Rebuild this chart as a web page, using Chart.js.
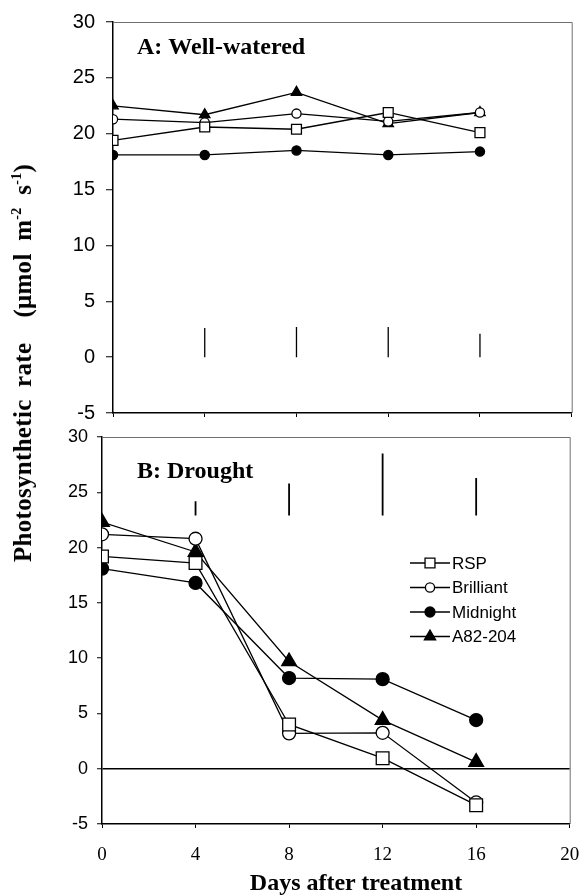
<!DOCTYPE html>
<html>
<head>
<meta charset="utf-8">
<script src="https://cdn.jsdelivr.net/npm/chart.js@4"></script>
<style>
body{margin:0;background:#fff;width:580px;height:895px;position:relative;overflow:hidden}
canvas{position:absolute;left:0}
#cA{top:0}
#cB{top:420px}
#ytitle{position:absolute;left:23px;top:363px;transform:translate(-50%,-50%) rotate(-90deg);font:bold 25px 'Liberation Serif';white-space:nowrap;color:#000;word-spacing:6px;letter-spacing:0.3px}
#ytitle sup{font-size:14px;vertical-align:10px;line-height:0}
#xtitle{position:absolute;left:356px;top:882px;transform:translate(-50%,-50%);font:bold 24px 'Liberation Serif';white-space:nowrap;color:#000}
</style>
</head>
<body>
<canvas id="cA" width="580" height="430"></canvas>
<canvas id="cB" width="580" height="475"></canvas>
<div id="ytitle">Photosynthetic rate&nbsp; (&mu;mol m<sup>-2</sup> s<sup>-1</sup>)</div>
<div id="xtitle">Days after treatment</div>
<script>
// days after treatment
const days = [0, 4, 8, 12, 16];
const seriesNames = ['RSP', 'Brilliant', 'Midnight', 'A82-204'];

// A: well-watered
const rspA = [19.4, 20.6, 20.4, 21.9, 20.1];
const brilliantA = [21.3, 21.0, 21.8, 21.1, 21.9];
const midnightA = [18.1, 18.1, 18.5, 18.1, 18.4];
const a82A = [22.5, 21.7, 23.7, 20.9, 21.9];

// B: drought
const rspB = [19.2, 18.6, 4.0, 0.95, -3.3];
const brilliantB = [21.2, 20.8, 3.2, 3.25, -3.05];
const midnightB = [18.1, 16.8, 8.2, 8.1, 4.4];
const a82B = [22.3, 19.6, 9.7, 4.4, 0.6];

// LSD bars
const lsdDays = [4, 8, 12, 16];
const lsdLowA = [0, 0, 0, 0];
const lsdHighA = [2.6, 2.7, 2.7, 2.1];
const lsdLowB = [22.9, 22.9, 22.9, 22.9];
const lsdHighB = [24.2, 25.8, 28.5, 26.3];

const yTicks = [-5, 0, 5, 10, 15, 20, 25, 30];
const xTicks = [0, 4, 8, 12, 16, 20];

const styles = [
  {pointStyle:'rect', fill:'#fff'},
  {pointStyle:'circle', fill:'#fff'},
  {pointStyle:'circle', fill:'#000'},
  {pointStyle:'triangle', fill:'#000'}
];

function pts(vals){ return days.map((d,i)=>({x:d, y:vals[i]})); }

function makeSets(list, radii, lsdLow, lsdHigh, lsdWidth){
  const sets = list.map((vals,i)=>({
    label: seriesNames[i],
    data: pts(vals),
    borderColor:'#000',
    borderWidth:1.3,
    pointStyle: styles[i].pointStyle,
    pointRadius: radii[i],
    pointBackgroundColor: styles[i].fill,
    pointBorderColor:'#000',
    pointBorderWidth:1.3,
    tension:0
  }));
  lsdDays.forEach((d,i)=>{
    sets.push({
      label:'lsd',
      data:[{x:d,y:lsdLow[i]},{x:d,y:lsdHigh[i]}],
      borderColor:'#000',
      borderWidth:lsdWidth,
      pointRadius:0
    });
  });
  return sets;
}

const framePlugin = {
  id:'frame',
  afterDraw(chart, args, opts){
    const {ctx, chartArea:a} = chart;
    ctx.save();
    ctx.strokeStyle = '#707070';
    ctx.lineWidth = 1;
    ctx.beginPath();
    ctx.moveTo(a.left, a.top + 0.5);
    ctx.lineTo(a.right + 0.5, a.top + 0.5);
    ctx.lineTo(a.right + 0.5, a.bottom);
    ctx.stroke();
    // panel label
    ctx.fillStyle = '#000';
    ctx.font = "bold 24px 'Liberation Serif'";
    ctx.textBaseline = 'middle';
    ctx.fillText(opts.label, opts.lx, opts.ly);
    // legend
    if (opts.legend) {
      const lg = opts.legend;
      seriesNames.forEach((name,i)=>{
        const y = lg.y + i*lg.gap;
        ctx.strokeStyle = '#000';
        ctx.lineWidth = 1.3;
        ctx.beginPath();
        ctx.moveTo(lg.x, y);
        ctx.lineTo(lg.x + 40, y);
        ctx.stroke();
        ctx.fillStyle = styles[i].fill;
        Chart.helpers.drawPoint(ctx, {pointStyle:styles[i].pointStyle, radius:lg.radii[i], rotation:0, borderWidth:1.3}, lg.x + 20, y);
        ctx.fillStyle = '#000';
        ctx.font = "17px 'Liberation Sans'";
        ctx.textBaseline = 'middle';
        ctx.fillText(name, lg.x + 42, y + 1);
      });
    }
    ctx.restore();
  }
};

function yScale(width, fontSize, tickLen, pad, zeroLine){
  return {
    type:'linear', min:-5, max:30,
    afterBuildTicks: s => { s.ticks = yTicks.map(v=>({value:v})); },
    afterFit: s => { s.width = width; s.paddingTop = 0; s.paddingBottom = 0; },
    ticks:{ font:{family:'Liberation Sans', size:fontSize}, color:'#000', padding:pad },
    grid:{
      drawOnChartArea: zeroLine,
      color: c => (zeroLine && c.tick && c.tick.value === 0) ? '#000' : 'rgba(0,0,0,0)',
      lineWidth: 1.5,
      tickColor:'#000', tickLength:tickLen, tickWidth:1
    },
    border:{display:true, color:'#000', width:1.5}
  };
}

function xScale(height, showLabels){
  return {
    type:'linear', min:0, max:20,
    afterBuildTicks: s => { s.ticks = xTicks.map(v=>({value:v})); },
    afterFit: s => { s.height = height; s.paddingLeft = 0; s.paddingRight = 0; },
    ticks:{ display:showLabels, font:{family:'Liberation Serif', size:19}, color:'#000', padding:16, maxRotation:0 },
    grid:{ drawOnChartArea:false, tickColor:'#000', tickLength:4 },
    border:{display:true, color:'#000', width:1.5}
  };
}

new Chart(document.getElementById('cA'), {
  type:'line',
  data:{ datasets: makeSets([rspA, brilliantA, midnightA, a82A], [7, 4.6, 4.6, 6], lsdLowA, lsdHighA, 1.3) },
  options:{
    responsive:false, animation:false,
    layout:{ padding:{top:22, right:8, left:0, bottom:0} },
    plugins:{ legend:{display:false}, tooltip:{enabled:false},
      frame:{ label:'A: Well-watered', lx:137, ly:48 } },
    scales:{
      x: xScale(17, false),
      y: yScale(113, 20, 7, 11, false)
    }
  },
  plugins:[framePlugin]
});

new Chart(document.getElementById('cB'), {
  type:'line',
  data:{ datasets: makeSets([rspB, brilliantB, midnightB, a82B], [9, 6.5, 6.5, 8.5], lsdLowB, lsdHighB, 1.8) },
  options:{
    responsive:false, animation:false,
    layout:{ padding:{top:17, right:8, left:0, bottom:0} },
    plugins:{ legend:{display:false}, tooltip:{enabled:false},
      frame:{ label:'B: Drought', lx:137, ly:52,
        legend:{ x:410, y:143, gap:24.5, radii:[7, 4.6, 5, 6.5] } } },
    scales:{
      x: xScale(71, true),
      y: yScale(102, 18, 5, 9, true)
    }
  },
  plugins:[framePlugin]
});
</script>
</body>
</html>
